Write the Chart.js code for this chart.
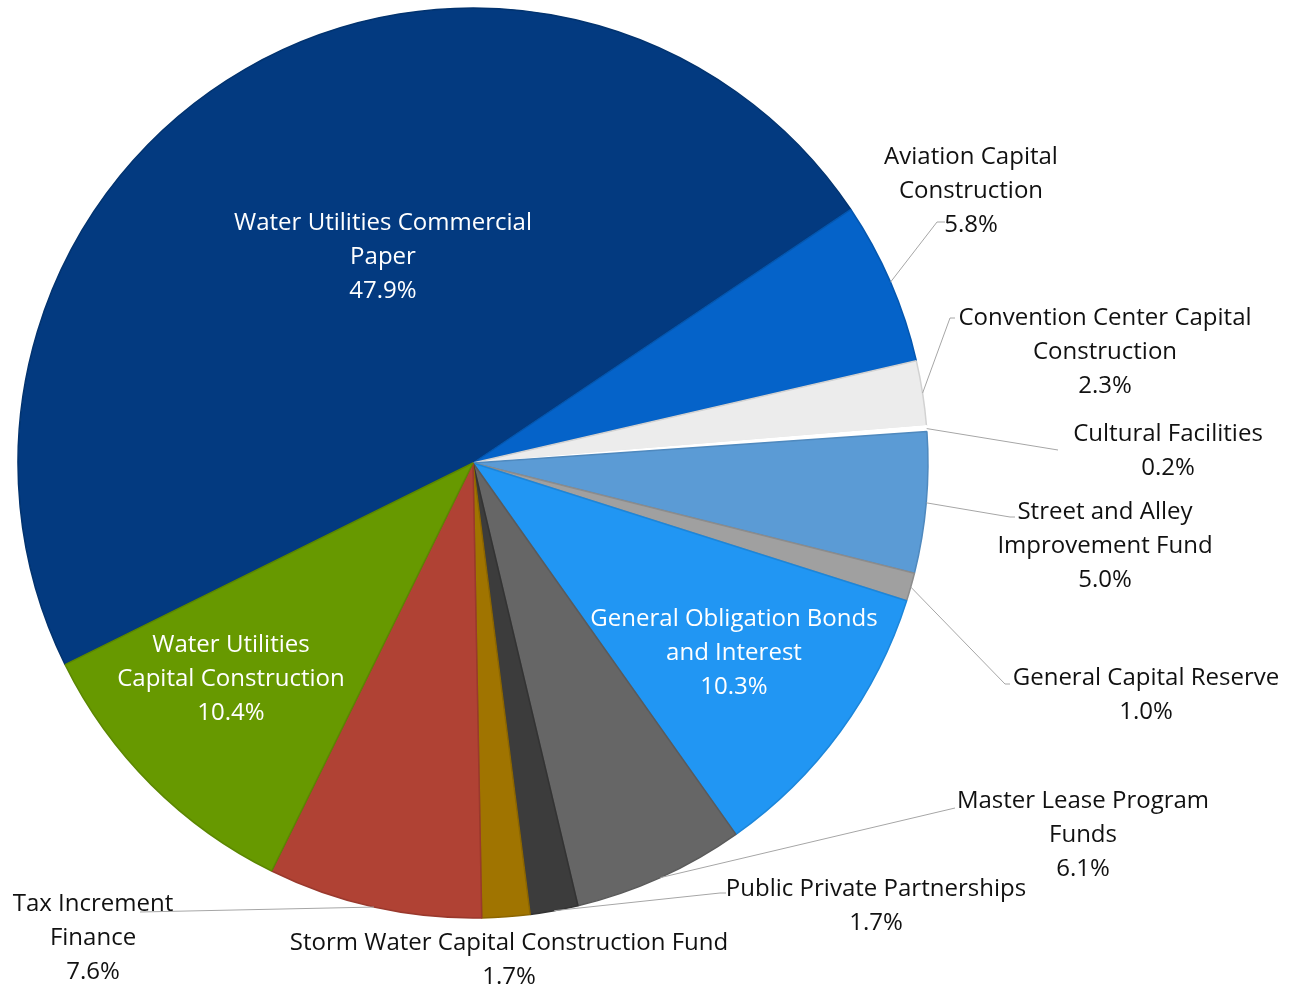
<!DOCTYPE html>
<html><head><meta charset="utf-8">
<script src="https://cdn.jsdelivr.net/npm/chart.js@4/dist/chart.umd.min.js"></script>
<style>html,body{margin:0;padding:0;background:#fff;}#wrap{width:1289px;height:988px;position:relative;}</style>
</head><body><div id="wrap"><canvas id="c" width="1289" height="988"></canvas></div>
<script>
// ---- data ----
const categories = [
  "Water Utilities Commercial Paper",
  "Aviation Capital Construction",
  "Convention Center Capital Construction",
  "Cultural Facilities",
  "Street and Alley Improvement Fund",
  "General Capital Reserve",
  "General Obligation Bonds and Interest",
  "Master Lease Program Funds",
  "Public Private Partnerships",
  "Storm Water Capital Construction Fund",
  "Tax Increment Finance",
  "Water Utilities Capital Construction"
];
const values = [47.9, 5.8, 2.3, 0.2, 5.0, 1.0, 10.3, 6.1, 1.7, 1.7, 7.6, 10.4];
const labelLines = [
  ["Water Utilities Commercial", "Paper"],
  ["Aviation Capital", "Construction"],
  ["Convention Center Capital", "Construction"],
  ["Cultural Facilities"],
  ["Street and Alley", "Improvement Fund"],
  ["General Capital Reserve"],
  ["General Obligation Bonds", "and Interest"],
  ["Master Lease Program", "Funds"],
  ["Public Private Partnerships"],
  ["Storm Water Capital Construction Fund"],
  ["Tax Increment", "Finance"],
  ["Water Utilities", "Capital Construction"]
];
const sliceColors = ["#033A80","#0563C9","#ECECEC","#FFFFFF","#5B9BD5","#A0A0A0","#2196F3","#666666","#3C3C3C","#A07400","#B04234","#679900"];
const sliceBorders = ["#02336F","#0457B0","#D2D2D2","#FFFFFF","#4F89BE","#8C8C8C","#1C86DA","#5A5A5A","#333333","#8C6600","#9A392D","#5B8700"];
const labelInside = [true,false,false,false,false,false,true,false,false,false,false,true];

// ---- layout of annotations (offsets from pie centre, px) ----
const labelPos = [[-90,-240],[498,-306],[632,-145],[695,-29],[632,49],[673,215],[261,156],[610,338],[403,426],[36,480],[-380,441],[-242,182]];
const leaders = [null,[[464,-241],[472,-241]],[[477,-145],[482,-145]],[[585,-13]],[[537,54],[542,54]],[[532,221],[537,221]],null,[[482,345]],[[247,430],[253,430]],null,[[-333,449]],null];
const lineGap = 34;

function fitFont(ctx){
  ctx.font = "100px 'Open Sans'";
  return 100 * 298 / ctx.measureText("Water Utilities Commercial").width;
}

const labelPlugin = {
  id: 'pieLabels',
  afterDatasetsDraw(chart){
    const ctx = chart.ctx;
    const meta = chart.getDatasetMeta(0);
    ctx.save();
    const size = fitFont(ctx);
    meta.data.forEach((arc, i) => {
      const p = arc.getProps(['x','y','startAngle','endAngle','outerRadius'], true);
      const mid = (p.startAngle + p.endAngle)/2;
      const ex = p.x + Math.cos(mid)*p.outerRadius;
      const ey = p.y + Math.sin(mid)*p.outerRadius;
      if (leaders[i]) {
        ctx.beginPath();
        ctx.strokeStyle = '#A6A6A6';
        ctx.lineWidth = 1;
        ctx.moveTo(ex, ey);
        leaders[i].forEach(pt => ctx.lineTo(p.x + pt[0], p.y + pt[1]));
        ctx.stroke();
      }
      const lines = labelLines[i].concat([values[i].toFixed(1) + '%']);
      ctx.font = size.toFixed(2) + "px 'Open Sans'";
      ctx.fillStyle = labelInside[i] ? '#FFFFFF' : '#111111';
      ctx.textAlign = 'center';
      ctx.textBaseline = 'middle';
      const lx = p.x + labelPos[i][0], ly = p.y + labelPos[i][1];
      lines.forEach((t, k) => ctx.fillText(t, lx, ly + k*lineGap));
    });
    ctx.restore();
  }
};

new Chart(document.getElementById('c'), {
  type: 'pie',
  data: {
    labels: categories,
    datasets: [{
      data: values,
      backgroundColor: sliceColors,
      borderColor: sliceBorders,
      borderWidth: 1.5,
      rotation: -116.3
    }]
  },
  options: {
    responsive: false,
    devicePixelRatio: 1,
    animation: false,
    radius: 455,
    layout: { padding: { left: 0, right: 343, top: 0, bottom: 62 } },
    plugins: { legend: { display: false }, tooltip: { enabled: false } }
  },
  plugins: [labelPlugin]
});
</script></body></html>
